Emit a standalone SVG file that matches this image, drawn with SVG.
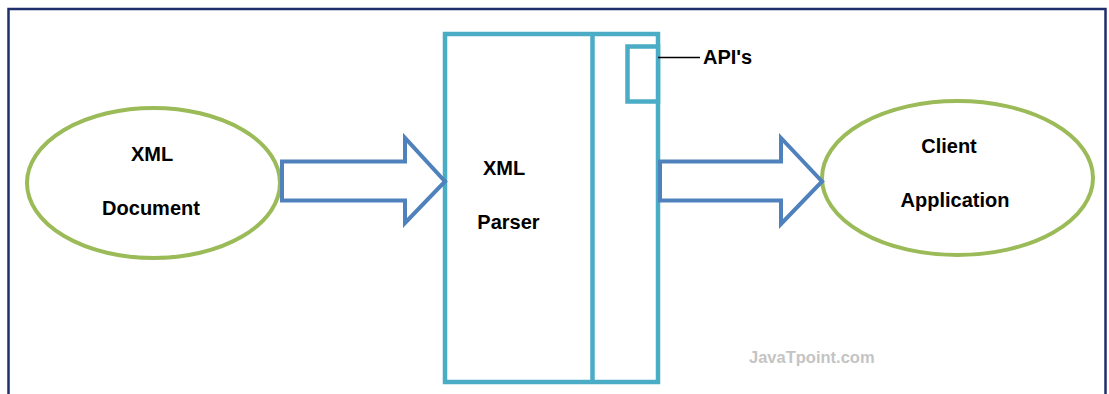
<svg xmlns="http://www.w3.org/2000/svg" width="1109" height="394" viewBox="0 0 1109 394">
  <style>
    .lbl { font-family: "Liberation Sans", Arial, sans-serif; font-weight: bold; font-size: 20px; fill: #000; }
    .ell { fill: #fff; stroke: #9BBB59; stroke-width: 4; }
    .box { fill: #fff; stroke: #4BACC6; stroke-width: 4.5; }
    .arrow { fill: #fff; stroke: #4F81BD; stroke-width: 4; stroke-linejoin: miter; }
  </style>
  <rect x="0" y="0" width="1109" height="394" fill="#fff"/>
  <path d="M8.5,394 V9 H1105.5 V394" fill="none" stroke="#1F2F6B" stroke-width="2.5"/>

  <g id="xml-document">
    <ellipse class="ell" cx="153.5" cy="183" rx="126.5" ry="75"/>
    <text class="lbl" x="152" y="161" text-anchor="middle">XML</text>
    <text class="lbl" x="151" y="215" text-anchor="middle">Document</text>
  </g>

  <g id="client-application">
    <ellipse class="ell" cx="957.5" cy="178" rx="135.5" ry="77"/>
    <text class="lbl" x="949" y="153" text-anchor="middle">Client</text>
    <text class="lbl" x="955" y="207" text-anchor="middle">Application</text>
  </g>

  <g id="xml-parser">
    <rect class="box" x="445" y="34" width="213" height="348"/>
    <line x1="592.5" y1="34" x2="592.5" y2="382" stroke="#4BACC6" stroke-width="4.5"/>
    <text class="lbl" x="504" y="175" text-anchor="middle">XML</text>
    <text class="lbl" x="508.5" y="229" text-anchor="middle">Parser</text>
  </g>

  <g id="apis">
    <rect class="box" x="627.5" y="46.5" width="30.5" height="55"/>
    <line x1="658" y1="57.5" x2="700" y2="57.5" stroke="#000" stroke-width="1.5"/>
    <text class="lbl" x="703" y="64">API's</text>
  </g>

  <g id="connectors">
    <polygon class="arrow" points="282,161.5 405,161.5 405,138 445,181.5 405,223 405,200.5 282,200.5"/>
    <polygon class="arrow" points="660,161.5 781,161.5 781,138 822,181.5 781,224 781,200.5 660,200.5"/>
  </g>

  <text x="749" y="363" font-family="Liberation Sans, Arial, sans-serif" font-weight="bold" font-size="16.5" fill="#C4C4C4">JavaTpoint.com</text>
</svg>
